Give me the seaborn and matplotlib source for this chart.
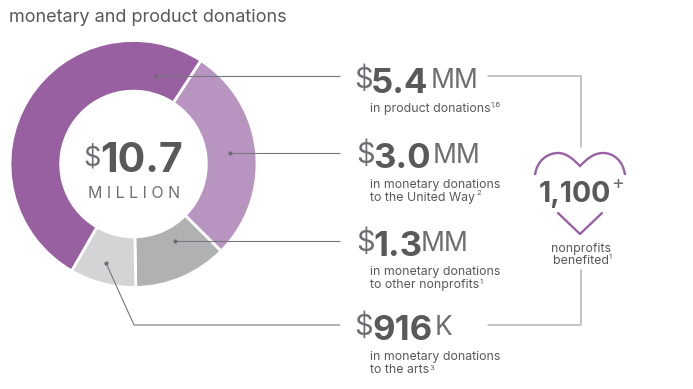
import matplotlib
matplotlib.use('Agg')
import matplotlib.pyplot as plt
from matplotlib.path import Path
from matplotlib.patches import PathPatch
import seaborn as sns

# values in $ million, clockwise from the big slice
categories = ['product', 'united way', 'other nonprofits', 'arts']
donations = [5.4, 3.0, 1.3, 0.916]
slice_colors = ['#985fa1', '#b894c1', '#b0b1b3', '#d3d4d6']

amounts = ['5.4', '3.0', '1.3', '916']
units = ['MM', 'MM', 'MM', 'K']
captions = [['in product donations'],
            ['in monetary donations', 'to the United Way'],
            ['in monetary donations', 'to other nonprofits'],
            ['in monetary donations', 'to the arts']]
footnotes = ['1,6', '2', '1', '3']

W, H = 693, 389
GREY = '#58595b'
HEART = '#9a62a6'

sns.set_theme(style='white')
plt.rcParams['font.family'] = ['Inter', 'DejaVu Sans']

fig = plt.figure(figsize=(W / 100, H / 100), dpi=100)

# donut
ax = fig.add_axes([10 / W, (H - 287.5) / H, 247 / W, 247 / H])
ax.pie(donations, colors=slice_colors, startangle=-120, counterclock=False, radius=1,
       wedgeprops=dict(width=0.41, edgecolor='white', linewidth=2))
ax.set_xlim(-1, 1)
ax.set_ylim(-1, 1)
ax.set_aspect('equal')

# overlay in pixel coords for the text and leader lines
ov = fig.add_axes([0, 0, 1, 1])
ov.set_xlim(0, W)
ov.set_ylim(H, 0)
ov.axis('off')


def txt(x, y, s, size, weight='normal', color=GREY, ha='left', va='baseline'):
    ov.text(x, y, s, fontsize=size, fontweight=weight, color=color, ha=ha, va=va)


txt(9, 22, 'monetary and product donations', 13)

# centre label
txt(83, 165, '$', 19.5, color='#6d6e71')
txt(100, 172, '10.7', 29.5, 'bold')
txt(134, 198, 'M I L L I O N', 11.5, color='#6d6e71', ha='center')

# leader lines
left_lines = [[(156, 76), (340, 76)],
              [(230, 153), (340, 153)],
              [(175, 241), (340, 241)],
              [(106, 263), (134, 325), (340, 325)]]
for pts in left_lines:
    xs, ys = zip(*pts)
    ov.plot(xs, ys, color='#77787b', lw=0.8, solid_capstyle='butt')
    ov.plot(xs[0], ys[0], 'o', color='#6d6e71', ms=2)

ov.plot([488, 581, 581], [76, 76, 147], color='#b3b4b6', lw=1.1)
ov.plot([488, 581, 581], [325, 325, 270], color='#b3b4b6', lw=1.1)

# money rows
dollar_x = [354, 356, 356, 354]
amount_x = [371, 373, 373, 372]
unit_x = [431, 433, 421, 435]
base_y = [93, 168, 256, 340]
cap_y = [[112], [188, 201], [275, 288], [360, 373]]
note_xy = [(491, 107), (476, 195), (480, 284), (430, 370)]
for i in range(4):
    txt(dollar_x[i], base_y[i] - 5, '$', 21, color='#6d6e71')
    txt(amount_x[i], base_y[i], amounts[i], 25, 'bold')
    txt(unit_x[i], base_y[i] - 5, units[i], 19, color='#6d6e71')
    for line, y in zip(captions[i], cap_y[i]):
        txt(370, y, line, 8.9)
    txt(note_xy[i][0], note_xy[i][1], footnotes[i], 5.5)

# heart, open on the sides where the number sits
verts = [(535, 175), (537, 160), (548, 153), (558, 153),
         (567, 153), (574, 160), (580, 166),
         (586, 160), (593, 153), (603, 153),
         (613, 153), (623, 160), (625, 175)]
codes = [Path.MOVETO] + [Path.CURVE4] * 12
ov.add_patch(PathPatch(Path(verts, codes), fc='none', ec=HEART, lw=1.7))
ov.plot([558, 580, 602], [213, 234, 213], color=HEART, lw=1.7)

txt(539, 202, '1,100', 20.5, 'bold')
txt(611, 189, '+', 14, color='#6d6e71')
txt(581, 252, 'nonprofits', 8.9, ha='center')
txt(581, 264, 'benefited', 8.9, ha='center')
txt(609, 259, '1', 5.5)

fig.savefig('out.png', dpi=100)
